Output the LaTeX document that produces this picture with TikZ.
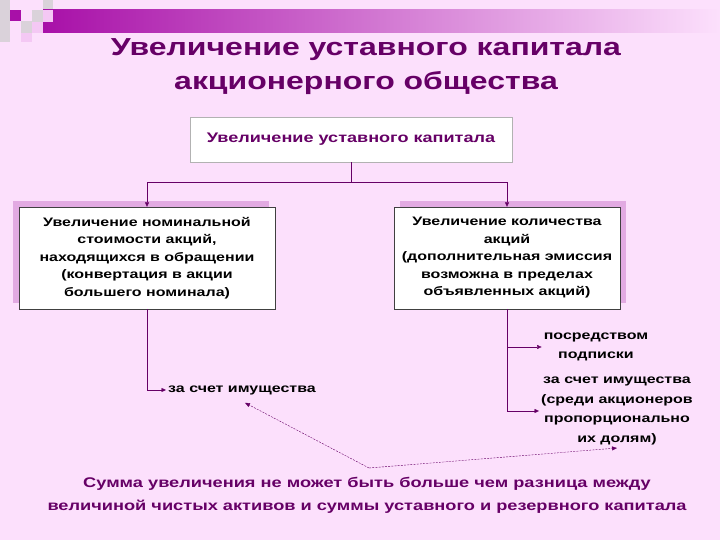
\documentclass[tikz,border=0pt]{standalone}
\usepackage{fontspec}
\setmainfont{Liberation Sans}[FakeStretch=1.3]
\usetikzlibrary{positioning, arrows.meta, shadows}
\definecolor{SlidePink}{RGB}{252,224,252}
\definecolor{TitlePurple}{RGB}{102,0,102}
\definecolor{BarPurple}{RGB}{168,16,168}
\definecolor{ShadowPink}{RGB}{226,170,226}
\definecolor{TileGrey}{RGB}{218,210,218}
\definecolor{TilePink}{RGB}{244,200,244}

\begin{document}
\begin{tikzpicture}[x=1pt, y=1pt]
  \tikzset{
    box/.style={draw=black!75, fill=white, minimum height=102pt, align=center,
      font=\fontsize{12.3}{17.5}\selectfont\bfseries},
    link/.style={draw=TitlePurple, -{Triangle[length=4.5pt, width=4pt]}},
    note/.style={align=center, inner sep=2pt, font=\fontsize{12.3}{19.5}\selectfont\bfseries},
    hint/.style={draw=TitlePurple, dash pattern=on 2pt off 1.2pt, -{Triangle[length=5pt, width=4pt]}}
  }
  \fill[SlidePink] (0,0) rectangle (720,540);
  % tiles and bar at the top
  \fill[TileGrey] (0,498) rectangle (10,540);
  \fill[BarPurple] (10,519) rectangle (21,530);
  \fill[TileGrey] (21,507) rectangle (32,519);
  \fill[TilePink] (21,498) rectangle (32,507);
  \fill[TileGrey] (32,518) rectangle (43,530);
  \fill[TilePink] (32,507) rectangle (43,518);
  \fill[TileGrey] (43,530) rectangle (53,540);
  \shade[left color=BarPurple, right color=SlidePink] (43,507) rectangle (720,530);
  \fill[TilePink] (43,518) rectangle (53,530);

  \node[font=\fontsize{24.6}{34}\selectfont\bfseries, text=TitlePurple, align=center] (title) at (366,473)
    {Увеличение уставного капитала\\акционерного общества};
  \node[draw=black!30, fill=white, minimum width=322pt, minimum height=45pt, text=TitlePurple,
    font=\fontsize{13.9}{16}\selectfont\bfseries] (cap) at (351,400.5) {Увеличение уставного капитала};
  \node[box, minimum width=256pt,
    drop shadow={shadow xshift=-6pt, shadow yshift=6pt, fill=ShadowPink, opacity=1}] (nom) at (147,282)
    {Увеличение номинальной\\стоимости акций,\\находящихся в обращении\\(конвертация в акции\\большего номинала)};
  \node[box, minimum width=226pt,
    drop shadow={shadow xshift=6pt, shadow yshift=6pt, fill=ShadowPink, opacity=1}] (qty) at (507,282)
    {Увеличение количества\\акций\\(дополнительная эмиссия\\возможна в пределах\\объявленных акций)};

  \node[note, anchor=west] (prop) at (166,150) {за счет имущества};
  \node[note] (subs) at (596,193) {посредством\\подписки};
  \node[note] (share) at (617,129) {за счет имущества\\(среди акционеров\\пропорционально\\их долям)};

  \node[font=\fontsize{14}{23}\selectfont\bfseries, text=TitlePurple, align=center] (limit) at (367,44.5)
    {Сумма увеличения не может быть больше чем разница между\\величиной чистых активов и суммы уставного и резервного капитала};

  \draw[link] (cap.south) -- ++(0,-20) coordinate (fork) -| (nom.north);
  \draw[link] (fork) -| (qty.north);
  \draw[link] (nom.south) |- (prop.west);
  \draw[link] (qty.south) |- (subs.west);
  \draw[link] (qty.south) |- (share.west);

  \coordinate (dip) at (369,72);
  \draw[hint] (dip) -- ([xshift=3pt, yshift=-6pt]prop.south);
  \draw[hint] (dip) -- ([yshift=-1pt]share.south);
\end{tikzpicture}
\end{document}
